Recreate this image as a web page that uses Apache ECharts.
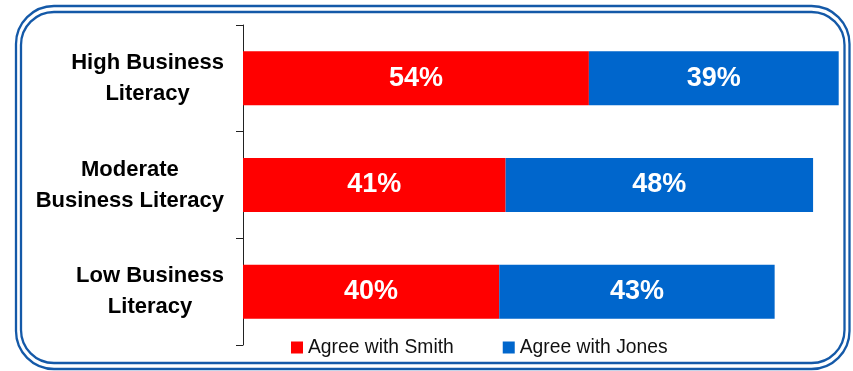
<!DOCTYPE html>
<html>
<head>
<meta charset="utf-8">
<script src="https://cdn.jsdelivr.net/npm/echarts@6/dist/echarts.min.js"></script>
<style>
  html, body { margin: 0; padding: 0; background: #fff; }
  #chart { width: 853px; height: 371px; }
</style>
</head>
<body>
<div id="chart"></div>
<script>
// Survey groups, top to bottom
const categories = ['High Business\nLiteracy', 'Moderate\nBusiness Literacy', 'Low Business\nLiteracy'];
// Share of respondents (%) per group
const smithValues = [54, 41, 40];
const jonesValues = [39, 48, 43];
const seriesNames = ['Agree with Smith', 'Agree with Jones'];

const chart = echarts.init(document.getElementById('chart'), null, { renderer: 'canvas' });

const FONT = 'Liberation Sans, Arial, sans-serif';

const valueLabel = {
  show: true,
  position: 'inside',
  formatter: '{c}%',
  color: '#fff',
  fontFamily: FONT,
  fontWeight: 'bold',
  fontSize: 27
};

const catLabelStyle = {
  align: 'center',
  color: '#000',
  fontFamily: FONT,
  fontSize: 22,
  fontWeight: 'bold',
  lineHeight: 31
};

chart.setOption({
  animation: false,
  backgroundColor: '#fff',
  textStyle: { fontFamily: FONT },
  // double rounded frame around the chart
  graphic: [
    {
      type: 'rect', silent: true,
      shape: { x: 16, y: 6, width: 833.5, height: 363, r: 38 },
      style: { fill: 'none', stroke: '#1459a8', lineWidth: 2.3 }
    },
    {
      type: 'rect', silent: true,
      shape: { x: 21, y: 12, width: 823.5, height: 351, r: 33 },
      style: { fill: 'none', stroke: '#1459a8', lineWidth: 2.3 }
    }
  ],
  grid: { left: 243, right: 14.3, top: 25, bottom: 26, containLabel: false },
  legend: {
    data: seriesNames,
    left: 291,
    top: 338,
    padding: 0,
    itemWidth: 12,
    itemHeight: 12,
    itemGap: 49,
    icon: 'rect',
    textStyle: { fontSize: 19.3, color: '#111', fontFamily: FONT }
  },
  xAxis: {
    type: 'value',
    min: 0,
    max: 93,
    show: false
  },
  yAxis: {
    type: 'category',
    data: categories,
    inverse: true,
    axisLine: { show: true, lineStyle: { color: '#222', width: 1 } },
    axisTick: { show: true, length: 7, lineStyle: { color: '#222', width: 1 } },
    axisLabel: {
      margin: 19,
      align: 'right',
      fontSize: 22,
      fontWeight: 'bold',
      lineHeight: 31,
      // each line is centred within the right-aligned label block
      formatter: v => v.split('\n').map(s => '{c|' + s + '}').join('\n'),
      rich: { c: catLabelStyle }
    }
  },
  series: [
    {
      name: seriesNames[0],
      type: 'bar',
      stack: 'total',
      data: smithValues,
      barWidth: 54,
      itemStyle: { color: '#ff0000' },
      label: valueLabel
    },
    {
      name: seriesNames[1],
      type: 'bar',
      stack: 'total',
      data: jonesValues,
      barWidth: 54,
      itemStyle: { color: '#0066cc' },
      label: valueLabel
    }
  ]
});
</script>
</body>
</html>
